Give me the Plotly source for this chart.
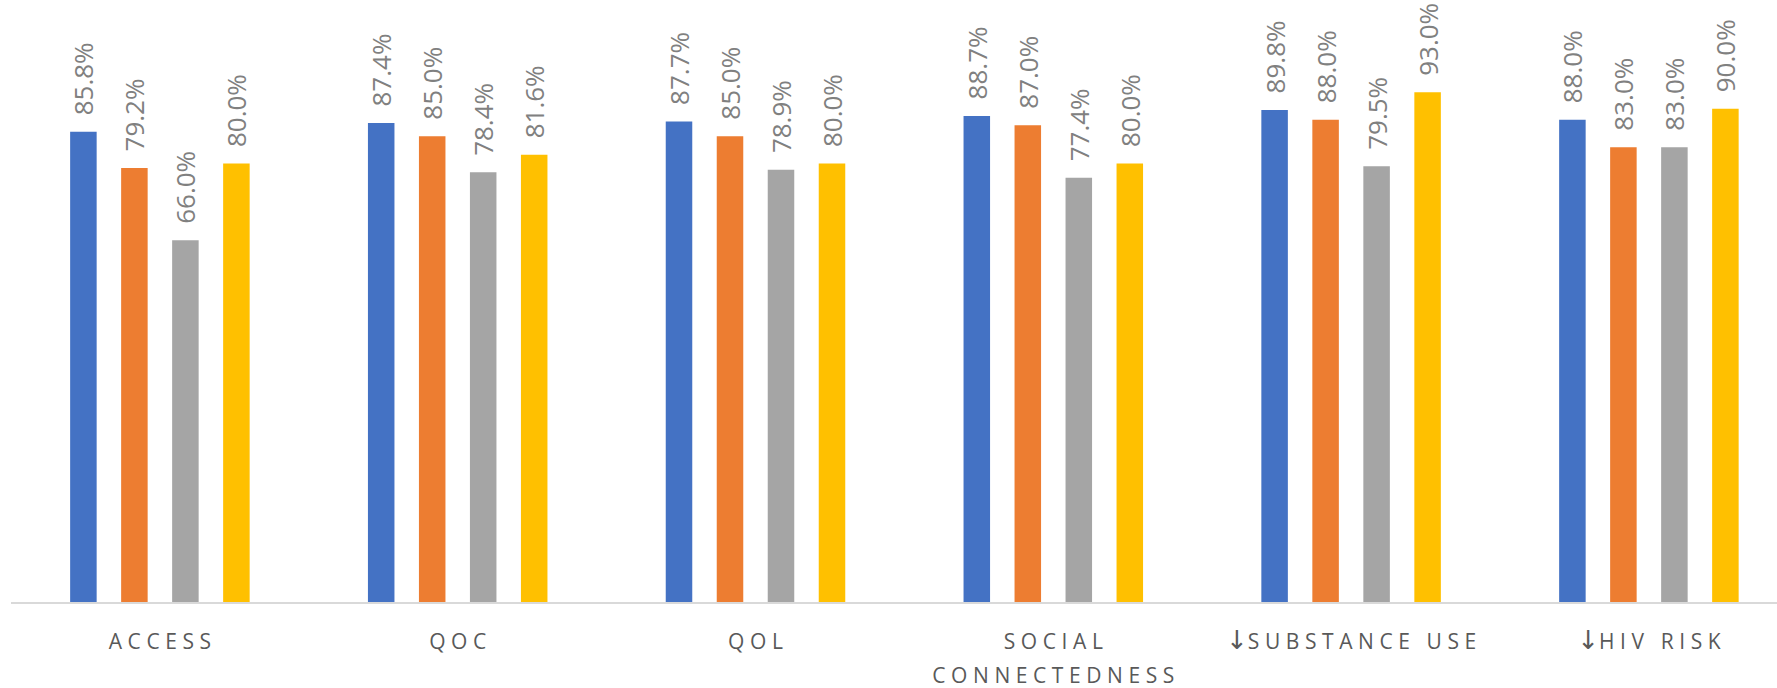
import plotly.graph_objects as go

categories = ["ACCESS", "QOC", "QOL", "SOCIAL<br>CONNECTEDNESS", "↓SUBSTANCE USE", "↓HIV RISK"]
series_names = ["Series 1", "Series 2", "Series 3", "Series 4"]
s1 = [85.8, 87.4, 87.7, 88.7, 89.8, 88.0]
s2 = [79.2, 85.0, 85.0, 87.0, 88.0, 83.0]
s3 = [66.0, 78.4, 78.9, 77.4, 79.5, 83.0]
s4 = [80.0, 81.6, 80.0, 80.0, 93.0, 90.0]
colors = ["#4472C4", "#ED7D31", "#A5A5A5", "#FFC000"]

GAP = "\u2009\u200a"


def spaced(label):
    # emulate letter spacing with thin spaces; render arrow in a larger glyph
    parts = label.split("<br>")
    out = []
    for p in parts:
        arrow = ""
        if p.startswith("↓"):
            arrow = "<span style='font-family:DejaVu Sans;font-size:26px'>↓</span>"
            p = p[1:]
        out.append(arrow + "<span style='font-size:21px'>" + GAP.join(list(p)) + "</span>")
    return "<br>".join(out)


tick_text = [spaced(c) for c in categories]

fig = go.Figure()
for name, vals, col in zip(series_names, [s1, s2, s3, s4], colors):
    fig.add_trace(go.Bar(
        x=categories, y=vals, name=name,
        marker=dict(color=col, line=dict(width=0)),
        text=["\u00a0\u00a0%.1f%%" % v for v in vals],
        textposition="outside",
        textangle=-90,
        constraintext="none",
        cliponaxis=False,
        textfont=dict(family="Open Sans", size=26, color="#808080"),
    ))

plot_w = 1777 - 11
cat_px = 297.8
fig.update_layout(
    width=1777, height=688,
    margin=dict(l=11, r=0, t=54, b=86),
    barmode="group",
    bargap=0.315,
    bargroupgap=0.48,
    showlegend=False,
    plot_bgcolor="white",
    paper_bgcolor="white",
    xaxis=dict(
        type="category",
        range=[-0.5, -0.5 + plot_w / cat_px],
        tickmode="array", tickvals=categories, ticktext=tick_text,
        showline=True, linecolor="#D9D9D9", linewidth=2,
        ticks="", showgrid=False, zeroline=False,
        ticklabelstandoff=14,
        tickfont=dict(family="Open Sans", size=26, color="#595959"),
    ),
    yaxis=dict(range=[0, 100], visible=False, showgrid=False, zeroline=False),
)

fig.write_html("out.html")
